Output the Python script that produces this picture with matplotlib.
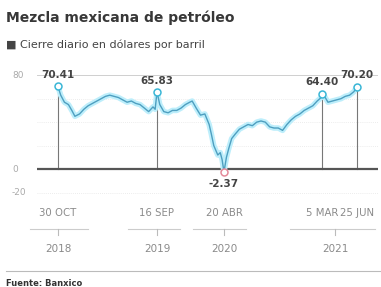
import numpy as np
import pandas as pd
import matplotlib
matplotlib.use("Agg")
import matplotlib.pyplot as plt
from matplotlib.transforms import blended_transform_factory

# Cierre diario (aprox.) de la mezcla mexicana, dólares por barril
fechas = ["2018-10-30", "2018-11-08", "2018-11-20", "2018-12-03", "2018-12-14", "2018-12-24",
          "2019-01-08", "2019-01-22", "2019-02-05", "2019-02-19", "2019-03-05", "2019-03-19",
          "2019-04-02", "2019-04-16", "2019-04-30", "2019-05-14", "2019-05-28", "2019-06-11",
          "2019-06-25", "2019-07-09", "2019-07-23", "2019-08-06", "2019-08-20", "2019-09-03",
          "2019-09-10", "2019-09-16", "2019-09-25", "2019-10-08", "2019-10-22", "2019-11-05",
          "2019-11-19", "2019-12-03", "2019-12-17", "2019-12-31", "2020-01-08", "2020-01-21",
          "2020-02-04", "2020-02-18", "2020-03-03", "2020-03-10", "2020-03-18", "2020-03-31",
          "2020-04-08", "2020-04-14", "2020-04-20", "2020-04-28", "2020-05-06", "2020-05-15",
          "2020-05-27", "2020-06-09", "2020-06-23", "2020-07-07", "2020-07-21", "2020-08-04",
          "2020-08-18", "2020-09-01", "2020-09-15", "2020-09-29", "2020-10-13", "2020-10-27",
          "2020-11-10", "2020-11-24", "2020-12-08", "2020-12-22", "2021-01-05", "2021-01-19",
          "2021-02-02", "2021-02-16", "2021-03-01", "2021-03-05", "2021-03-12", "2021-03-23",
          "2021-04-06", "2021-04-20", "2021-05-04", "2021-05-18", "2021-06-01", "2021-06-15",
          "2021-06-25"]
precios = [70.41, 63, 57, 55, 50, 45,
           47, 51, 54, 56, 58, 60,
           62, 63, 62, 61, 59, 57,
           58, 56, 55, 52, 49, 53,
           51, 65.83, 55, 49, 48, 50,
           50, 52, 55, 57, 58, 52,
           46, 47, 38, 30, 20, 12,
           14, 8, -2.37, 10, 18, 26,
           30, 34, 36, 38, 37, 40,
           41, 40, 36, 35, 35, 33,
           38, 42, 45, 47, 50, 52,
           54, 58, 61, 64.40, 62, 57,
           58, 59, 60, 62, 63, 66,
           70.20]

# puntos destacados
destacados = ["2018-10-30", "2019-09-16", "2020-04-20", "2021-03-05", "2021-06-25"]
etiquetas_fecha = ["30 OCT", "16 SEP", "20 ABR", "5 MAR", "25 JUN"]

# años y sus corchetes
anios = ["2018", "2019", "2020", "2021"]
anio_centro = ["2018-10-30", "2019-09-16", "2020-04-20", "2021-04-15"]
anio_inicio = ["2018-07-31", "2019-06-14", "2020-01-10", "2020-11-20"]
anio_fin = ["2019-02-04", "2019-11-29", "2020-07-01", "2021-08-22"]

serie = pd.Series(precios, index=pd.to_datetime(fechas))

fig = plt.figure(figsize=(3.81, 2.87), dpi=100)
ax = fig.add_axes([0.097, 0.321, 0.895, 0.425])

# rejilla
ax.axhline(80, color="#cfcfcf", lw=0.7, zorder=0)
for v in [20, 40, 60, -20]:
    ax.axhline(v, color="#e6e6e6", lw=0.6, ls=(0, (1, 1.5)), zorder=0)
ax.axhline(0, color="#555555", lw=1.6, zorder=2)

# líneas verticales de los puntos
for d in destacados:
    ts = pd.Timestamp(d)
    ax.plot([ts, ts], [0, serie[ts]], color="#777777", lw=0.8, zorder=1)

# serie con halo
ax.plot(serie.index, serie.values, color="#bdeefb", lw=4.0, solid_capstyle="round", zorder=3)
ax.plot(serie.index, serie.values, color="#4e9fc0", lw=1.0, zorder=4)

for d in destacados:
    ts = pd.Timestamp(d)
    v = serie[ts]
    color = "#e48a9a" if v < 0 else "#3ab6d6"
    ax.plot(ts, v, "o", ms=5, mfc="white", mec=color, mew=1.1, zorder=5)
    if v < 0:
        ax.annotate(f"{v:.2f}", (ts, v), xytext=(0, -5), textcoords="offset points",
                    ha="center", va="top", fontsize=7.5, fontweight="bold", color="#444444")
    else:
        ax.annotate(f"{v:.2f}", (ts, v), xytext=(0, 4.5), textcoords="offset points",
                    ha="center", va="bottom", fontsize=7.5, fontweight="bold", color="#444444")

ax.set_xlim(pd.Timestamp("2018-08-23"), pd.Timestamp("2021-09-01"))
ax.set_ylim(-22, 82)
ax.axis("off")

# etiquetas eje y
for v in [80, 0, -20]:
    ax.annotate(str(v), (0, v), xycoords=("figure fraction", "data"), xytext=(12, 0),
                textcoords="offset pixels", ha="left", va="center", fontsize=6.5, color="#aaaaaa")

# etiquetas de fechas y años
tr = blended_transform_factory(ax.transData, fig.transFigure)
for d, lab in zip(destacados, etiquetas_fecha):
    ax.text(pd.Timestamp(d), 1 - 213 / 287, lab, transform=tr, ha="center", va="center",
            fontsize=7.3, color="#8a8a8a")
for a, c, i, f in zip(anios, anio_centro, anio_inicio, anio_fin):
    ax.plot([pd.Timestamp(i), pd.Timestamp(f)], [1 - 229 / 287] * 2, transform=tr,
            color="#cccccc", lw=0.8, clip_on=False)
    ax.plot([pd.Timestamp(c)] * 2, [1 - 229 / 287, 1 - 235 / 287], transform=tr,
            color="#bbbbbb", lw=0.8, clip_on=False)
    ax.text(pd.Timestamp(c), 1 - 249 / 287, a, transform=tr, ha="center", va="center",
            fontsize=7.5, color="#8a8a8a")

# títulos
fig.text(6 / 381, 1 - 18 / 287, "Mezcla mexicana de petróleo", fontsize=10,
         fontweight="bold", color="#383838", va="center")
fig.text(6 / 381, 1 - 45 / 287, "■ Cierre diario en dólares por barril", fontsize=8,
         color="#444444", va="center")

fig.add_artist(plt.Line2D([6 / 381, 380 / 381], [1 - 271 / 287] * 2, color="#bbbbbb", lw=0.8))
fig.text(6 / 381, 1 - 283 / 287, "Fuente: Banxico", fontsize=6, fontweight="bold",
         color="#333333", va="center")

fig.savefig("out.png", dpi=100)
